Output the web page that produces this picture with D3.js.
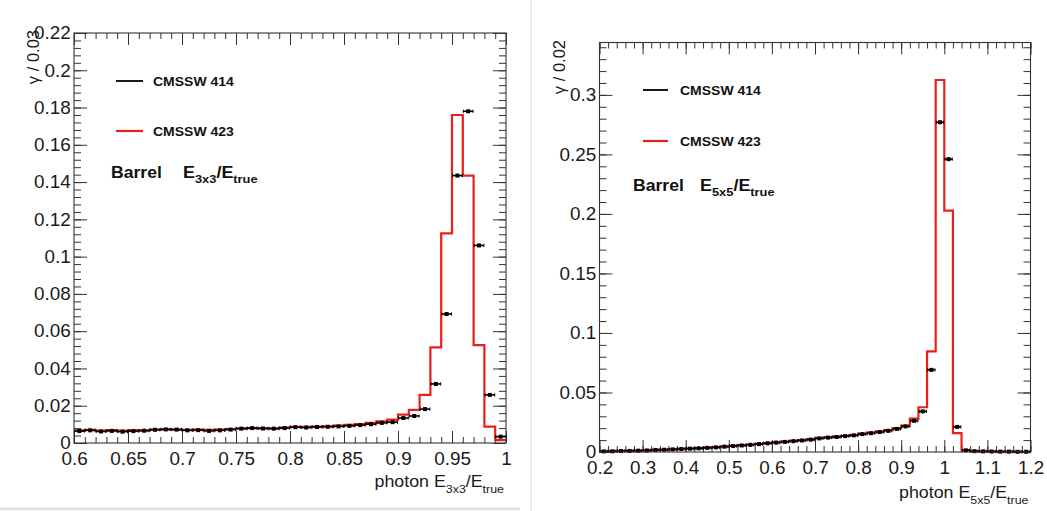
<!DOCTYPE html>
<html><head><meta charset="utf-8">
<script src="https://cdn.jsdelivr.net/npm/d3@7"></script>
<style>body{margin:0;background:#fff}svg{display:block}</style>
</head><body>
<svg id="c" width="1047" height="511"></svg>
<script>
// ---------------- DATA ----------------
const seriesNames = ["CMSSW 414", "CMSSW 423"];

// Left panel: E3x3/Etrue, bins of 0.01 from 0.6
const leftBinStart = 0.6, leftBinWidth = 0.01;
const leftRed = [0.0068,0.0070,0.0067,0.0069,0.0066,0.0069,0.0068,0.0072,0.0073,0.0072,
                 0.0071,0.0072,0.0070,0.0072,0.0075,0.0078,0.0080,0.0080,0.0079,0.0082,
                 0.0086,0.0086,0.0088,0.0090,0.0093,0.0097,0.0102,0.0108,0.0116,0.0125,
                 0.0152,0.0178,0.0258,0.0513,0.1125,0.1760,0.1435,0.0525,0.0088,0.0015];
const leftBlack = [0.0064,0.0068,0.0062,0.0065,0.0061,0.0064,0.0066,0.0071,0.0073,0.0072,
                   0.0068,0.0069,0.0065,0.0068,0.0072,0.0077,0.0080,0.0078,0.0077,0.0080,
                   0.0085,0.0083,0.0086,0.0087,0.0089,0.0092,0.0096,0.0101,0.0108,0.0112,
                   0.0134,0.0145,0.0182,0.0317,0.0692,0.1435,0.1780,0.1060,0.0258,0.0034];
const leftXTicks = [0.6,0.65,0.7,0.75,0.8,0.85,0.9,0.95,1.0];
const leftXLabels = ["0.6","0.65","0.7","0.75","0.8","0.85","0.9","0.95","1"];
const leftYTicks = [0,0.02,0.04,0.06,0.08,0.1,0.12,0.14,0.16,0.18,0.2,0.22];
const leftYLabels = ["0","0.02","0.04","0.06","0.08","0.1","0.12","0.14","0.16","0.18","0.2","0.22"];

// Right panel: E5x5/Etrue, bins of 0.02 from 0.2
const rightBinStart = 0.2, rightBinWidth = 0.02;
const rightRed = [0.0006,0.0007,0.0009,0.0010,0.0012,0.0015,0.0018,0.0020,0.0023,0.0026,
                  0.0030,0.0033,0.0037,0.0041,0.0046,0.0052,0.0058,0.0063,0.0069,0.0075,
                  0.0082,0.0088,0.0094,0.0100,0.0106,0.0118,0.0124,0.0130,0.0136,0.0142,
                  0.0155,0.0163,0.0172,0.0185,0.0200,0.0222,0.0280,0.0376,0.0845,0.3125,
                  0.2027,0.0158,0.0016,0.0008,0.0006,0.0005,0.0004,0.0003,0.0003,0.0002];
const rightBlack = [0.0005,0.0006,0.0008,0.0009,0.0011,0.0013,0.0017,0.0019,0.0022,0.0025,
                    0.0028,0.0031,0.0035,0.0039,0.0045,0.0050,0.0055,0.0060,0.0066,0.0073,
                    0.0079,0.0085,0.0091,0.0097,0.0104,0.0114,0.0121,0.0126,0.0133,0.0140,
                    0.0150,0.0158,0.0168,0.0178,0.0194,0.0215,0.0262,0.0341,0.0690,0.2770,
                    0.2460,0.0211,0.0014,0.0007,0.0005,0.0004,0.0003,0.0003,0.0002,0.0002];
const rightXTicks = [0.2,0.3,0.4,0.5,0.6,0.7,0.8,0.9,1.0,1.1,1.2];
const rightXLabels = ["0.2","0.3","0.4","0.5","0.6","0.7","0.8","0.9","1","1.1","1.2"];
const rightYTicks = [0,0.05,0.1,0.15,0.2,0.25,0.3];
const rightYLabels = ["0","0.05","0.1","0.15","0.2","0.25","0.3"];

// ---------------- DRAWING ----------------
const svg = d3.select("#c");
const FONT = "'Liberation Sans', Arial, Helvetica, sans-serif";
const RED = "#ea1f1c", AX = "#333";

// faint separators from the original composite
svg.append("line").attr("x1",0).attr("x2",520).attr("y1",509).attr("y2",509)
   .attr("stroke","#e2e2e2").attr("stroke-width",3);
svg.append("line").attr("x1",531).attr("x2",531).attr("y1",0).attr("y2",511)
   .attr("stroke","#ececec").attr("stroke-width",2);

function minorRange(a, b, step) {
  const n = Math.round((b - a) / step);
  return d3.range(n + 1).map(i => +(a + i * step).toFixed(6));
}

function panel(cfg) {
  const g = svg.append("g");
  const x = d3.scaleLinear().domain(cfg.xDomain).range([cfg.left, cfg.right]);
  const y = d3.scaleLinear().domain(cfg.yDomain).range([cfg.bottom, cfg.top]);

  const fmtX = d => cfg.xLabels[cfg.xTicks.findIndex(t => Math.abs(t - d) < 1e-9)];
  const fmtY = d => cfg.yLabels[cfg.yTicks.findIndex(t => Math.abs(t - d) < 1e-9)];
  const xMinor = minorRange(cfg.xDomain[0], cfg.xDomain[1], cfg.xMinorStep);
  const yMinor = minorRange(cfg.yDomain[0], Math.floor(cfg.yDomain[1] / cfg.yMinorStep) * cfg.yMinorStep, cfg.yMinorStep);

  g.append("g").attr("transform", `translate(0,${cfg.bottom})`)
    .call(d3.axisBottom(x).tickValues(cfg.xTicks).tickFormat(fmtX).tickSize(-12).tickSizeOuter(0).tickPadding(9));
  g.append("g").attr("transform", `translate(0,${cfg.bottom})`)
    .call(d3.axisBottom(x).tickValues(xMinor).tickFormat("").tickSize(-6).tickSizeOuter(0));
  g.append("g").attr("transform", `translate(0,${cfg.top})`)
    .call(d3.axisTop(x).tickValues(cfg.xTicks).tickFormat("").tickSize(-12).tickSizeOuter(0));
  g.append("g").attr("transform", `translate(0,${cfg.top})`)
    .call(d3.axisTop(x).tickValues(xMinor).tickFormat("").tickSize(-6).tickSizeOuter(0));

  g.append("g").attr("transform", `translate(${cfg.left},0)`)
    .call(d3.axisLeft(y).tickValues(cfg.yTicks).tickFormat(fmtY).tickSize(-13).tickSizeOuter(0).tickPadding(3));
  g.append("g").attr("transform", `translate(${cfg.left},0)`)
    .call(d3.axisLeft(y).tickValues(yMinor).tickFormat("").tickSize(-7).tickSizeOuter(0));
  g.append("g").attr("transform", `translate(${cfg.right},0)`)
    .call(d3.axisRight(y).tickValues(cfg.yTicks).tickFormat("").tickSize(-13).tickSizeOuter(0));
  g.append("g").attr("transform", `translate(${cfg.right},0)`)
    .call(d3.axisRight(y).tickValues(yMinor).tickFormat("").tickSize(-7).tickSizeOuter(0));

  g.selectAll(".domain").remove();
  g.selectAll(".tick line").attr("stroke", AX).attr("stroke-width", 1);
  g.selectAll(".tick text").attr("font-family", FONT).attr("font-size", 18).attr("fill", "#1a1a1a")
    .attr("transform", "scale(1.05,1)");

  // red histogram outline
  const pts = [];
  cfg.red.forEach((v, i) => {
    const a = cfg.binStart + i * cfg.binWidth;
    pts.push([a, v], [a + cfg.binWidth, v]);
  });
  g.append("path").attr("d", d3.line().x(d => x(d[0])).y(d => y(d[1]))(pts))
    .attr("fill", "none").attr("stroke", RED).attr("stroke-width", 2.2);

  // black points with horizontal error bars
  const pg = g.append("g");
  cfg.black.forEach((v, i) => {
    const c = cfg.binStart + (i + 0.5) * cfg.binWidth;
    const hw = cfg.binWidth * cfg.barFrac / 2;
    const yy = y(v);
    pg.append("line").attr("x1", x(c - hw)).attr("x2", x(c + hw)).attr("y1", yy).attr("y2", yy)
      .attr("stroke", "#000").attr("stroke-width", 1.6);
    [c - hw, c + hw].forEach(e => pg.append("line").attr("x1", x(e)).attr("x2", x(e))
      .attr("y1", yy - 1.6).attr("y2", yy + 1.6).attr("stroke", "#000").attr("stroke-width", 1));
    pg.append("rect").attr("x", x(c) - 2).attr("y", yy - 2).attr("width", 4).attr("height", 4).attr("fill", "#000");
  });

  // frame
  g.append("rect").attr("x", cfg.left).attr("y", cfg.top)
    .attr("width", cfg.right - cfg.left).attr("height", cfg.bottom - cfg.top)
    .attr("fill", "none").attr("stroke", AX).attr("stroke-width", 1.1);

  // legend
  const L = cfg.legend;
  [[L.y1, "#000", 1.8, seriesNames[0]], [L.y2, RED, 2.2, seriesNames[1]]].forEach(([ly, col, sw, name]) => {
    g.append("line").attr("x1", L.x1).attr("x2", L.x2).attr("y1", ly).attr("y2", ly)
      .attr("stroke", col).attr("stroke-width", sw);
    g.append("text").attr("transform", `translate(${L.tx},${ly + 4.5}) scale(1.12,1)`)
      .attr("font-family", FONT).attr("font-weight", "bold").attr("font-size", 12.5).attr("fill", "#111")
      .text(name);
  });
  g.append("text").attr("transform", `translate(${L.bx},${L.by}) scale(1.1,1)`)
    .attr("font-family", FONT).attr("font-weight", "bold").attr("font-size", 16).attr("fill", "#111")
    .text("Barrel");
  const et = g.append("text").attr("transform", `translate(${L.ex},${L.by}) scale(1.12,1)`)
    .attr("font-family", FONT).attr("font-weight", "bold").attr("font-size", 16).attr("fill", "#111");
  et.append("tspan").text("E");
  et.append("tspan").attr("dy", 5).attr("font-size", 11.5).text(cfg.sub);
  et.append("tspan").attr("dy", -5).text("/E");
  et.append("tspan").attr("dy", 5).attr("font-size", 11.5).text("true");

  // x-axis title
  const xt = g.append("text").attr("transform", `translate(${cfg.right - 2},${cfg.xTitleY}) scale(1.08,1)`)
    .attr("text-anchor", "end").attr("font-family", FONT).attr("font-size", 16.5).attr("fill", "#1a1a1a");
  xt.append("tspan").text("photon E");
  xt.append("tspan").attr("dy", 6).attr("font-size", 11.5).text(cfg.sub);
  xt.append("tspan").attr("dy", -6).text("/E");
  xt.append("tspan").attr("dy", 6).attr("font-size", 11.5).text("true");

  // y-axis title
  g.append("text").attr("transform", `translate(${cfg.yTitleX},${cfg.yTitleTop}) rotate(-90)`)
    .attr("text-anchor", "end").attr("font-family", FONT).attr("font-size", 16.5).attr("fill", "#1a1a1a")
    .text(cfg.yTitle);
}

panel({
  xDomain: [0.6, 1.0], yDomain: [0, 0.22],
  left: 74, right: 506, top: 33, bottom: 443,
  xTicks: leftXTicks, xLabels: leftXLabels, xMinorStep: 0.01,
  yTicks: leftYTicks, yLabels: leftYLabels, yMinorStep: 0.004,
  binStart: leftBinStart, binWidth: leftBinWidth, red: leftRed, black: leftBlack, barFrac: 0.9,
  legend: {x1: 116, x2: 143, y1: 81, y2: 131, tx: 153, bx: 111, by: 178, ex: 183},
  sub: "3x3", xTitleY: 487, yTitle: "\u03b3 / 0.03", yTitleX: 38.5, yTitleTop: 30
});

panel({
  xDomain: [0.2, 1.2], yDomain: [0, 0.344],
  left: 599.5, right: 1030.5, top: 42.5, bottom: 452,
  xTicks: rightXTicks, xLabels: rightXLabels, xMinorStep: 0.02,
  yTicks: rightYTicks, yLabels: rightYLabels, yMinorStep: 0.01,
  binStart: rightBinStart, binWidth: rightBinWidth, red: rightRed, black: rightBlack, barFrac: 0.85,
  legend: {x1: 643, x2: 668, y1: 90, y2: 141, tx: 680, bx: 633, by: 191, ex: 700},
  sub: "5x5", xTitleY: 498, yTitle: "\u03b3 / 0.02", yTitleX: 565, yTitleTop: 40
});
</script>
</body></html>
